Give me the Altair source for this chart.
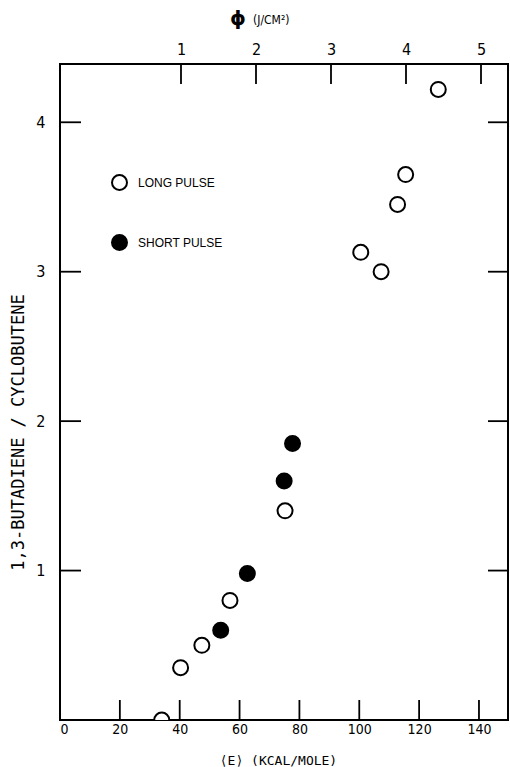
import altair as alt
import pandas as pd

# ---- data ----
long_E = [34.0, 40.3, 47.4, 56.8, 75.2, 100.5, 107.3, 112.8, 115.5, 126.4]
long_R = [0.0, 0.35, 0.50, 0.80, 1.40, 3.13, 3.00, 3.45, 3.65, 4.22]
short_E = [53.7, 62.6, 74.9, 77.7]
short_R = [0.60, 0.98, 1.60, 1.85]
series = ["Long pulse", "Short pulse"]

e_ticks = [0, 20, 40, 60, 80, 100, 120, 140]
r_ticks = [1, 2, 3, 4]
phi_ticks = [1, 2, 3, 4, 5]

E_DOMAIN = [0, 149.7]
R_DOMAIN = [0, 4.39]
PHI_DOMAIN = [-0.6133, 5.36]

W, H = 448, 656
FONT = "Liberation Sans Narrow, DejaVu Sans Condensed, Arial Narrow, sans-serif"
MONO = "DejaVu Sans Mono, Liberation Mono, monospace"

pts = pd.DataFrame(
    {"E": long_E + short_E,
     "R": long_R + short_R,
     "pulse": [series[0]] * len(long_E) + [series[1]] * len(short_E)}
)
e_tick_df = pd.DataFrame({"E": e_ticks[1:]})
r_tick_df = pd.DataFrame({"R": r_ticks})
phi_tick_df = pd.DataFrame({"phi": phi_ticks})

xE = alt.Scale(domain=E_DOMAIN, nice=False, zero=False)
yR = alt.Scale(domain=R_DOMAIN, nice=False, zero=False)

y_axis = alt.Axis(
    orient="left", values=r_ticks, ticks=False, domain=False, grid=False,
    labelFont=FONT, labelFontSize=16, labelPadding=15, labelColor="black",
    title="1,3-BUTADIENE / CYCLOBUTENE", titleFont=MONO, titleFontSize=17,
    titleFontWeight="normal", titleColor="black", titleAngle=-90,
    titleX=-42, titleY=368, titleBaseline="middle", titleAnchor="middle")

points = alt.Chart(pts).mark_point(
    shape="circle", size=225, strokeWidth=2, stroke="black", filled=False, opacity=1, clip=True
).encode(
    x=alt.X("E:Q", scale=xE, axis=alt.Axis(
        orient="bottom", values=e_ticks, ticks=False, domain=False, grid=False,
        labelFont=FONT, labelFontSize=14, labelPadding=2, labelColor="black",
        title="⟨E⟩   (KCAL/MOLE)", titleFont=MONO, titleFontSize=13, titleFontWeight="normal",
        titleColor="black", titleX=218, titleY=40, titleBaseline="middle", titleAnchor="middle")),
    y=alt.Y("R:Q", scale=yR, axis=y_axis),
    fill=alt.Fill("pulse:N", scale=alt.Scale(domain=series, range=["white", "black"]),
                  legend=alt.Legend(
                      orient="none", legendX=51, legendY=110, title=None,
                      symbolType="circle", symbolSize=225, symbolStrokeColor="black",
                      symbolStrokeWidth=2, symbolOpacity=1, rowPadding=37, labelOffset=10,
                      labelFont="Liberation Sans, DejaVu Sans, sans-serif", labelFontSize=12,
                      labelColor="black", labelExpr="upper(datum.label)", padding=0)),
)

bottom_ticks = alt.Chart(e_tick_df).mark_rule(color="black", strokeWidth=1.8).encode(
    x=alt.X("E:Q", scale=xE, axis=None),
    y=alt.value(H - 20), y2=alt.value(H),
)

left_ticks = alt.Chart(r_tick_df).mark_rule(color="black", strokeWidth=1.8).encode(
    y=alt.Y("R:Q", scale=yR, axis=y_axis),
    x=alt.value(0), x2=alt.value(21),
)
right_ticks = alt.Chart(r_tick_df).mark_rule(color="black", strokeWidth=1.8).encode(
    y=alt.Y("R:Q", scale=yR, axis=y_axis),
    x=alt.value(W - 20), x2=alt.value(W),
)

top_ticks = alt.Chart(phi_tick_df).mark_rule(color="black", strokeWidth=1.8).encode(
    x=alt.X("phi:Q", scale=alt.Scale(domain=PHI_DOMAIN, nice=False, zero=False),
            axis=alt.Axis(orient="top", values=phi_ticks, ticks=False, domain=False, grid=False,
                          labelFont=FONT, labelFontSize=16, labelPadding=7, labelColor="black",
                          title=None)),
    y=alt.value(0), y2=alt.value(20),
)

phi_title = alt.Chart(pd.DataFrame({"t": ["ɸ"]})).mark_text(
    font="DejaVu Sans", fontSize=20, fontWeight="bold", color="black", align="center", baseline="middle"
).encode(text="t:N", x=alt.value(178), y=alt.value(-45))

unit_title = alt.Chart(pd.DataFrame({"t": ["(J/CM²)"]})).mark_text(
    font=FONT, fontSize=12, color="black", align="left", baseline="middle"
).encode(text="t:N", x=alt.value(193), y=alt.value(-44))

chart = alt.layer(
    points, bottom_ticks, left_ticks, right_ticks, top_ticks, phi_title, unit_title
).resolve_scale(x="independent").properties(
    width=W, height=H,
    autosize=alt.AutoSizeParams(type="none"),
    padding={"left": 60, "top": 64, "right": 2, "bottom": 47},
    background="white",
).configure_view(stroke="black", strokeWidth=2)

chart.save("out.html", embed_options={"renderer": "svg", "actions": False})
